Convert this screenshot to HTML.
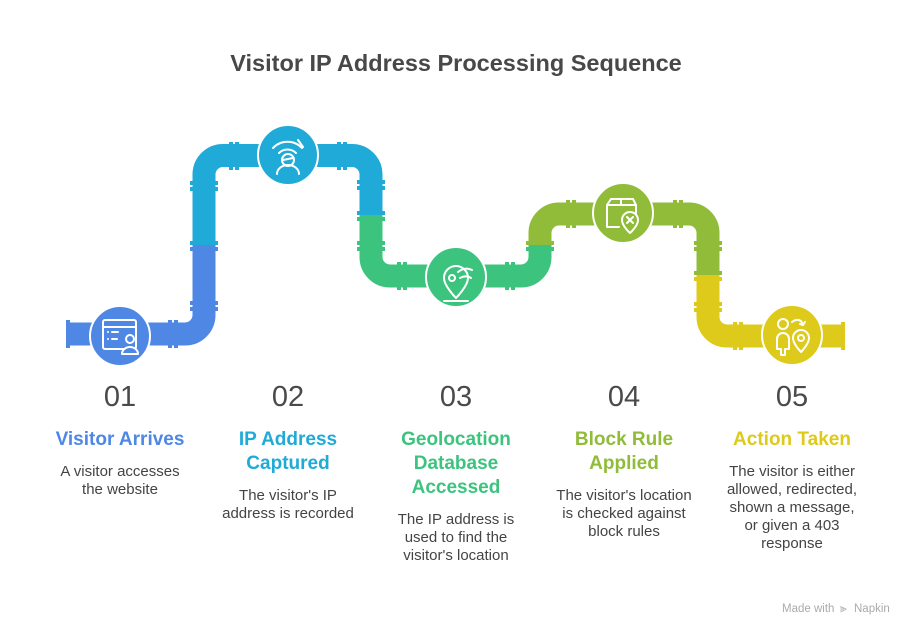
<!DOCTYPE html>
<html><head><meta charset="utf-8"><style>
html,body{margin:0;padding:0;background:#fff;}
svg text{font-family:"Liberation Sans",sans-serif;}
</style></head><body>
<svg width="915" height="636" viewBox="0 0 915 636" xmlns="http://www.w3.org/2000/svg">
<rect width="915" height="636" fill="#fff"/>
<text x="456" y="71" text-anchor="middle" font-size="23.5" font-weight="bold" fill="#484848">Visitor IP Address Processing Sequence</text>

<g fill="none" stroke-width="23">
<path d="M68,334 H185 A19,19 0 0 0 204,315 V245" stroke="#4E87E4"/>
<path d="M204,245 V174 A19,19 0 0 1 223,155.5 H352 A19,19 0 0 1 371,174 V214" stroke="#20AAD8"/>
<path d="M371,214 V257 A19,19 0 0 0 390,276 H521 A19,19 0 0 0 540,257 V244" stroke="#3CC47F"/>
<path d="M540,244 V233 A19,19 0 0 1 559,214 H689 A19,19 0 0 1 708,233 V274" stroke="#90BC3A"/>
<path d="M708,274 V317 A19,19 0 0 0 727,336 H843" stroke="#DDCA1A"/>
</g>

<g>
<rect x="66" y="320" width="4" height="28" fill="#4E87E4"/>
<rect x="168" y="320" width="4" height="28" fill="#4E87E4"/>
<rect x="174" y="320" width="4" height="28" fill="#4E87E4"/>
<rect x="190" y="301" width="28" height="4" fill="#4E87E4"/>
<rect x="190" y="307" width="28" height="4" fill="#4E87E4"/>
<rect x="190" y="241" width="28" height="4" fill="#20AAD8"/>
<rect x="190" y="247" width="28" height="4" fill="#4E87E4"/>
<rect x="190" y="181" width="28" height="4" fill="#20AAD8"/>
<rect x="190" y="187" width="28" height="4" fill="#20AAD8"/>
<rect x="229" y="142" width="4" height="28" fill="#20AAD8"/>
<rect x="235" y="142" width="4" height="28" fill="#20AAD8"/>
<rect x="337" y="142" width="4" height="28" fill="#20AAD8"/>
<rect x="343" y="142" width="4" height="28" fill="#20AAD8"/>
<rect x="357" y="180" width="28" height="4" fill="#20AAD8"/>
<rect x="357" y="186" width="28" height="4" fill="#20AAD8"/>
<rect x="357" y="211" width="28" height="4" fill="#20AAD8"/>
<rect x="357" y="217" width="28" height="4" fill="#3CC47F"/>
<rect x="357" y="241" width="28" height="4" fill="#3CC47F"/>
<rect x="357" y="247" width="28" height="4" fill="#3CC47F"/>
<rect x="397" y="262" width="4" height="28" fill="#3CC47F"/>
<rect x="403" y="262" width="4" height="28" fill="#3CC47F"/>
<rect x="505" y="262" width="4" height="28" fill="#3CC47F"/>
<rect x="511" y="262" width="4" height="28" fill="#3CC47F"/>
<rect x="526" y="241" width="28" height="4" fill="#90BC3A"/>
<rect x="526" y="247" width="28" height="4" fill="#3CC47F"/>
<rect x="566" y="200" width="4" height="28" fill="#90BC3A"/>
<rect x="572" y="200" width="4" height="28" fill="#90BC3A"/>
<rect x="673" y="200" width="4" height="28" fill="#90BC3A"/>
<rect x="679" y="200" width="4" height="28" fill="#90BC3A"/>
<rect x="694" y="241" width="28" height="4" fill="#90BC3A"/>
<rect x="694" y="247" width="28" height="4" fill="#90BC3A"/>
<rect x="694" y="271" width="28" height="4" fill="#90BC3A"/>
<rect x="694" y="277" width="28" height="4" fill="#DDCA1A"/>
<rect x="694" y="302" width="28" height="4" fill="#DDCA1A"/>
<rect x="694" y="308" width="28" height="4" fill="#DDCA1A"/>
<rect x="733" y="322" width="4" height="28" fill="#DDCA1A"/>
<rect x="739" y="322" width="4" height="28" fill="#DDCA1A"/>
<rect x="841" y="322" width="4" height="28" fill="#DDCA1A"/>
</g>

<g stroke="#fff" stroke-width="2">
<circle cx="120" cy="336" r="30" fill="#4E87E4"/>
<circle cx="288" cy="155" r="30" fill="#20AAD8"/>
<circle cx="456" cy="277" r="30" fill="#3CC47F"/>
<circle cx="623" cy="213" r="30" fill="#90BC3A"/>
<circle cx="792" cy="335" r="30" fill="#DDCA1A"/>
</g>

<g fill="none" stroke="#fff" stroke-width="2" stroke-linecap="round" stroke-linejoin="round">
<rect x="103" y="320" width="33" height="29" rx="2"/>
<line x1="103" y1="327" x2="136" y2="327"/>
<line x1="108" y1="332" x2="108" y2="332"/><line x1="112" y1="332" x2="118" y2="332"/>
<line x1="108" y1="339" x2="108" y2="339"/><line x1="112" y1="339" x2="117" y2="339"/>
<circle cx="130" cy="339" r="4" fill="#4E87E4"/>
<path d="M122,354 a8,7 0 0 1 16,0 z" fill="#4E87E4"/>
<path d="M273,148 a20,20 0 0 1 29,0"/><path d="M279,153 a12,12 0 0 1 17,0"/>
<line x1="298" y1="140" x2="303" y2="147"/>
<circle cx="288" cy="160" r="6"/><line x1="283" y1="160" x2="293" y2="158"/>
<path d="M277,174 a11,9 0 0 1 22,0"/>
<path d="M456,298 c0,0 -12,-12 -12,-20 a12,12 0 0 1 24,0 c0,8 -12,20 -12,20z"/>
<circle cx="452" cy="278" r="3"/>
<path d="M458,272 c5,-4 10,-4 14,-2 M460,278 c4,-2 8,-2 11,0"/>
<line x1="444" y1="301" x2="468" y2="301"/>
<path d="M619,227 h-12 v-22 l4,-6 h22 l3,6 v8"/>
<line x1="607" y1="205" x2="636" y2="205"/><line x1="621" y1="199" x2="621" y2="205"/>
<path d="M630,233 c0,0 -8,-7 -8,-13 a8,8 0 0 1 16,0 c0,6 -8,13 -8,13z"/>
<path d="M627,217 l6,6 M633,217 l-6,6"/>
<circle cx="783" cy="324" r="5"/>
<path d="M777,349 v-10 a6,6 0 0 1 12,0 v10 h-4 v6 h-4 v-6z"/>
<path d="M792,322 c5,-4 10,-2 11,3 l-3,-1 M803,325 l2,-3"/>
<path d="M801,352 c0,0 -8,-8 -8,-14 a8,8 0 0 1 16,0 c0,6 -8,14 -8,14z"/>
<circle cx="801" cy="338" r="3"/>
</g>

<g font-size="29" fill="#4a4a4a" text-anchor="middle">
<text x="120" y="406">01</text>
<text x="288" y="406">02</text>
<text x="456" y="406">03</text>
<text x="624" y="406">04</text>
<text x="792" y="406">05</text>
</g>

<g font-size="19" font-weight="bold" text-anchor="middle">
<text x="120" y="445" fill="#4E87E4">Visitor Arrives</text>
<text x="288" y="445" fill="#20AAD8">IP Address</text>
<text x="288" y="469" fill="#20AAD8">Captured</text>
<text x="456" y="445" fill="#3CC47F">Geolocation</text>
<text x="456" y="469" fill="#3CC47F">Database</text>
<text x="456" y="493" fill="#3CC47F">Accessed</text>
<text x="624" y="445" fill="#90BC3A">Block Rule</text>
<text x="624" y="469" fill="#90BC3A">Applied</text>
<text x="792" y="445" fill="#DDCA1A">Action Taken</text>
</g>

<g font-size="15" fill="#444" text-anchor="middle">
<text x="120" y="476">A visitor accesses</text>
<text x="120" y="494">the website</text>
<text x="288" y="500">The visitor's IP</text>
<text x="288" y="518">address is recorded</text>
<text x="456" y="524">The IP address is</text>
<text x="456" y="542">used to find the</text>
<text x="456" y="560">visitor's location</text>
<text x="624" y="500">The visitor's location</text>
<text x="624" y="518">is checked against</text>
<text x="624" y="536">block rules</text>
<text x="792" y="476">The visitor is either</text>
<text x="792" y="494">allowed, redirected,</text>
<text x="792" y="512">shown a message,</text>
<text x="792" y="530">or given a 403</text>
<text x="792" y="548">response</text>
</g>

<text x="782" y="612" font-size="11.5" fill="#aaa">Made with</text>
<text x="840" y="612" font-size="12" fill="#aaa">⫸</text>
<text x="854" y="612" font-size="11.5" fill="#aaa">Napkin</text>
</svg>
</body></html>
